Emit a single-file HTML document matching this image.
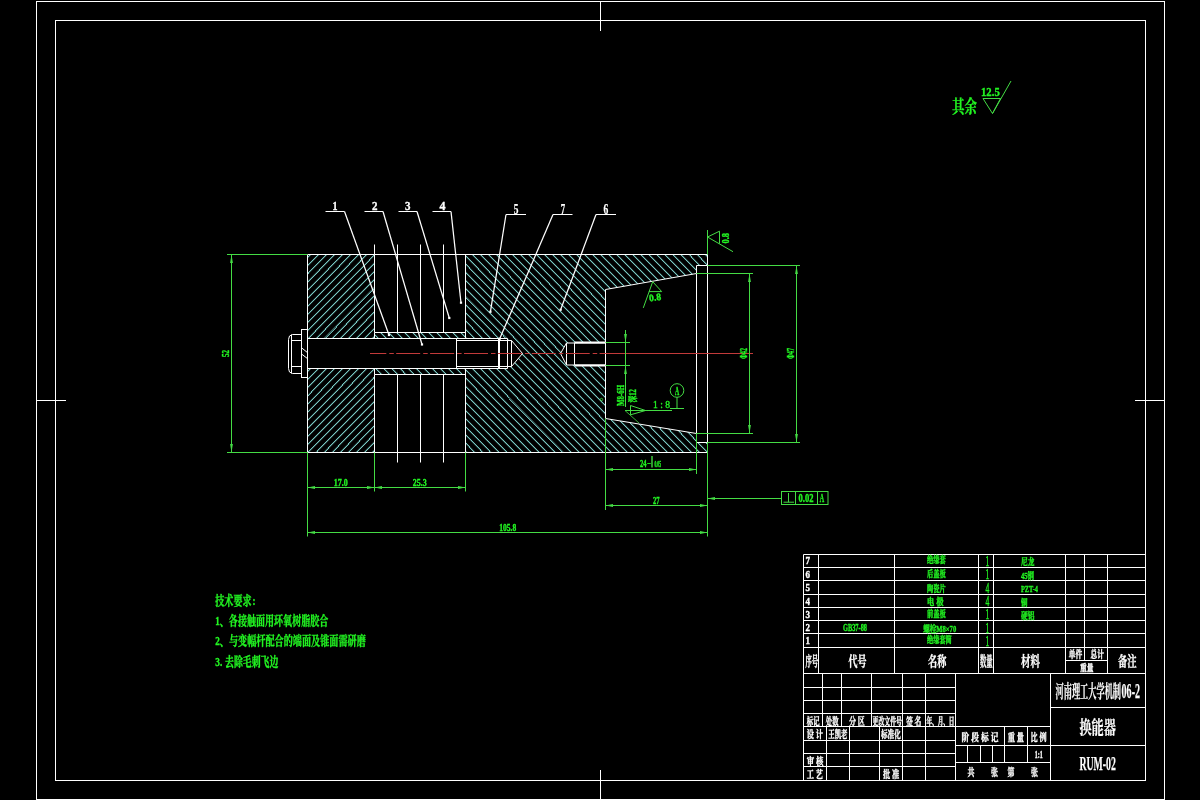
<!DOCTYPE html>
<html lang="zh">
<head>
<meta charset="utf-8">
<title>换能器 RUM-02</title>
<style>
html,body{margin:0;padding:0;background:#000;width:1200px;height:800px;overflow:hidden}
svg{display:block;will-change:transform;font-family:'Liberation Serif', 'Noto Serif CJK SC', serif}
text{white-space:pre}
</style>
</head>
<body>
<svg width="1200" height="800" viewBox="0 0 1200 800" shape-rendering="geometricPrecision">
<defs>
<clipPath id="c1"><path d="M307.5,254.5H374.5V338.5H307.5Z M307.5,368.5H374.5V452.5H307.5Z" clip-rule="evenodd"/></clipPath>
<clipPath id="c2"><path d="M374.5,332.5H465.5V338.5H374.5Z M374.5,368.5H465.5V374.5H374.5Z" clip-rule="evenodd"/></clipPath>
<clipPath id="c3"><path d="M465.5,254.5H707.5V265.5H696.5V273.5L605.5,289.5V343H566.5L560.5,353.5L566.5,365H605.5V418.5L696.5,433.5V442.5H707.5V452.5H465.5V368.5H507.5V366.5H511.5L522.5,353.5L511.5,340.5H507.5V338.5H465.5Z" clip-rule="evenodd"/></clipPath>
</defs>
<g>
<rect x="36.5" y="1.5" width="1128.0" height="798.0" fill="none" stroke="#ffffff" stroke-width="1"/>
<rect x="55.5" y="20.5" width="1090.0" height="760.0" fill="none" stroke="#ffffff" stroke-width="1"/>
<line x1="600.5" y1="1.5" x2="600.5" y2="31" stroke="#ffffff" stroke-width="1" />
<line x1="600.5" y1="770" x2="600.5" y2="799.5" stroke="#ffffff" stroke-width="1" />
<line x1="36.5" y1="400.5" x2="66" y2="400.5" stroke="#ffffff" stroke-width="1" />
<line x1="1135" y1="400.5" x2="1164.5" y2="400.5" stroke="#ffffff" stroke-width="1" />
<g clip-path="url(#c1)" fill="none" stroke="#93f2ec"><path d="M307.50,257.75L374.50,189.87M307.50,265.89L374.50,198.00M307.50,274.02L374.50,206.14M307.50,282.16L374.50,214.28M307.50,290.29L374.50,222.41M307.50,298.43L374.50,230.55M307.50,306.57L374.50,238.68M307.50,314.70L374.50,246.82M307.50,322.84L374.50,254.95M307.50,330.97L374.50,263.09M307.50,339.11L374.50,271.23M307.50,347.24L374.50,279.36M307.50,355.38L374.50,287.50M307.50,363.52L374.50,295.63M307.50,371.65L374.50,303.77M307.50,379.79L374.50,311.90M307.50,387.92L374.50,320.04M307.50,396.06L374.50,328.18M307.50,404.19L374.50,336.31M307.50,412.33L374.50,344.45M307.50,420.47L374.50,352.58M307.50,428.60L374.50,360.72M307.50,436.74L374.50,368.86M307.50,444.87L374.50,376.99M307.50,453.01L374.50,385.13M307.50,461.14L374.50,393.26M307.50,469.28L374.50,401.40M307.50,477.42L374.50,409.53M307.50,485.55L374.50,417.67M307.50,493.69L374.50,425.81M307.50,501.82L374.50,433.94M307.50,509.96L374.50,442.08M307.50,518.10L374.50,450.21" stroke-width="1.5" stroke-opacity="0.4"/><path d="M307.50,257.75L374.50,189.87M307.50,265.89L374.50,198.00M307.50,274.02L374.50,206.14M307.50,282.16L374.50,214.28M307.50,290.29L374.50,222.41M307.50,298.43L374.50,230.55M307.50,306.57L374.50,238.68M307.50,314.70L374.50,246.82M307.50,322.84L374.50,254.95M307.50,330.97L374.50,263.09M307.50,339.11L374.50,271.23M307.50,347.24L374.50,279.36M307.50,355.38L374.50,287.50M307.50,363.52L374.50,295.63M307.50,371.65L374.50,303.77M307.50,379.79L374.50,311.90M307.50,387.92L374.50,320.04M307.50,396.06L374.50,328.18M307.50,404.19L374.50,336.31M307.50,412.33L374.50,344.45M307.50,420.47L374.50,352.58M307.50,428.60L374.50,360.72M307.50,436.74L374.50,368.86M307.50,444.87L374.50,376.99M307.50,453.01L374.50,385.13M307.50,461.14L374.50,393.26M307.50,469.28L374.50,401.40M307.50,477.42L374.50,409.53M307.50,485.55L374.50,417.67M307.50,493.69L374.50,425.81M307.50,501.82L374.50,433.94M307.50,509.96L374.50,442.08M307.50,518.10L374.50,450.21" stroke-width="0.71" shape-rendering="crispEdges"/></g>
<g clip-path="url(#c2)" fill="none" stroke="#93f2ec"><path d="M374.50,367.02L465.50,459.22M374.50,358.89L465.50,451.08M374.50,350.75L465.50,442.95M374.50,342.61L465.50,434.81M374.50,334.48L465.50,426.68M374.50,326.34L465.50,418.54M374.50,318.21L465.50,410.41M374.50,310.07L465.50,402.27M374.50,301.94L465.50,394.13M374.50,293.80L465.50,386.00M374.50,285.66L465.50,377.86M374.50,277.53L465.50,369.73M374.50,269.39L465.50,361.59M374.50,261.26L465.50,353.45M374.50,253.12L465.50,345.32M374.50,244.98L465.50,337.18" stroke-width="1.5" stroke-opacity="0.4"/><path d="M374.50,367.02L465.50,459.22M374.50,358.89L465.50,451.08M374.50,350.75L465.50,442.95M374.50,342.61L465.50,434.81M374.50,334.48L465.50,426.68M374.50,326.34L465.50,418.54M374.50,318.21L465.50,410.41M374.50,310.07L465.50,402.27M374.50,301.94L465.50,394.13M374.50,293.80L465.50,386.00M374.50,285.66L465.50,377.86M374.50,277.53L465.50,369.73M374.50,269.39L465.50,361.59M374.50,261.26L465.50,353.45M374.50,253.12L465.50,345.32M374.50,244.98L465.50,337.18" stroke-width="0.71" shape-rendering="crispEdges"/></g>
<g clip-path="url(#c3)" fill="none" stroke="#93f2ec"><path d="M465.50,451.08L707.50,696.27M465.50,442.95L707.50,688.14M465.50,434.81L707.50,680.00M465.50,426.68L707.50,671.86M465.50,418.54L707.50,663.73M465.50,410.41L707.50,655.59M465.50,402.27L707.50,647.46M465.50,394.13L707.50,639.32M465.50,386.00L707.50,631.19M465.50,377.86L707.50,623.05M465.50,369.73L707.50,614.91M465.50,361.59L707.50,606.78M465.50,353.45L707.50,598.64M465.50,345.32L707.50,590.51M465.50,337.18L707.50,582.37M465.50,329.05L707.50,574.24M465.50,320.91L707.50,566.10M465.50,312.78L707.50,557.96M465.50,304.64L707.50,549.83M465.50,296.50L707.50,541.69M465.50,288.37L707.50,533.56M465.50,280.23L707.50,525.42M465.50,272.10L707.50,517.28M465.50,263.96L707.50,509.15M465.50,255.83L707.50,501.01M465.50,247.69L707.50,492.88M465.50,239.55L707.50,484.74M465.50,231.42L707.50,476.61M465.50,223.28L707.50,468.47M465.50,215.15L707.50,460.33M465.50,207.01L707.50,452.20M465.50,198.88L707.50,444.06M465.50,190.74L707.50,435.93M465.50,182.60L707.50,427.79M465.50,174.47L707.50,419.66M465.50,166.33L707.50,411.52M465.50,158.20L707.50,403.38M465.50,150.06L707.50,395.25M465.50,141.93L707.50,387.11M465.50,133.79L707.50,378.98M465.50,125.65L707.50,370.84M465.50,117.52L707.50,362.71M465.50,109.38L707.50,354.57M465.50,101.25L707.50,346.43M465.50,93.11L707.50,338.30M465.50,84.97L707.50,330.16M465.50,76.84L707.50,322.03M465.50,68.70L707.50,313.89M465.50,60.57L707.50,305.75M465.50,52.43L707.50,297.62M465.50,44.30L707.50,289.48M465.50,36.16L707.50,281.35M465.50,28.02L707.50,273.21M465.50,19.89L707.50,265.08M465.50,11.75L707.50,256.94" stroke-width="1.5" stroke-opacity="0.4"/><path d="M465.50,451.08L707.50,696.27M465.50,442.95L707.50,688.14M465.50,434.81L707.50,680.00M465.50,426.68L707.50,671.86M465.50,418.54L707.50,663.73M465.50,410.41L707.50,655.59M465.50,402.27L707.50,647.46M465.50,394.13L707.50,639.32M465.50,386.00L707.50,631.19M465.50,377.86L707.50,623.05M465.50,369.73L707.50,614.91M465.50,361.59L707.50,606.78M465.50,353.45L707.50,598.64M465.50,345.32L707.50,590.51M465.50,337.18L707.50,582.37M465.50,329.05L707.50,574.24M465.50,320.91L707.50,566.10M465.50,312.78L707.50,557.96M465.50,304.64L707.50,549.83M465.50,296.50L707.50,541.69M465.50,288.37L707.50,533.56M465.50,280.23L707.50,525.42M465.50,272.10L707.50,517.28M465.50,263.96L707.50,509.15M465.50,255.83L707.50,501.01M465.50,247.69L707.50,492.88M465.50,239.55L707.50,484.74M465.50,231.42L707.50,476.61M465.50,223.28L707.50,468.47M465.50,215.15L707.50,460.33M465.50,207.01L707.50,452.20M465.50,198.88L707.50,444.06M465.50,190.74L707.50,435.93M465.50,182.60L707.50,427.79M465.50,174.47L707.50,419.66M465.50,166.33L707.50,411.52M465.50,158.20L707.50,403.38M465.50,150.06L707.50,395.25M465.50,141.93L707.50,387.11M465.50,133.79L707.50,378.98M465.50,125.65L707.50,370.84M465.50,117.52L707.50,362.71M465.50,109.38L707.50,354.57M465.50,101.25L707.50,346.43M465.50,93.11L707.50,338.30M465.50,84.97L707.50,330.16M465.50,76.84L707.50,322.03M465.50,68.70L707.50,313.89M465.50,60.57L707.50,305.75M465.50,52.43L707.50,297.62M465.50,44.30L707.50,289.48M465.50,36.16L707.50,281.35M465.50,28.02L707.50,273.21M465.50,19.89L707.50,265.08M465.50,11.75L707.50,256.94" stroke-width="0.71" shape-rendering="crispEdges"/></g>
<line x1="307.5" y1="254.5" x2="707.5" y2="254.5" stroke="#ffffff" stroke-width="1" />
<line x1="307.5" y1="452.5" x2="707.5" y2="452.5" stroke="#ffffff" stroke-width="1" />
<line x1="307.5" y1="254.5" x2="307.5" y2="452.5" stroke="#ffffff" stroke-width="1" />
<line x1="374.5" y1="244.5" x2="374.5" y2="332.5" stroke="#ffffff" stroke-width="1" />
<line x1="397.5" y1="244.5" x2="397.5" y2="332.5" stroke="#ffffff" stroke-width="1" />
<line x1="420.5" y1="244.5" x2="420.5" y2="332.5" stroke="#ffffff" stroke-width="1" />
<line x1="443.5" y1="244.5" x2="443.5" y2="332.5" stroke="#ffffff" stroke-width="1" />
<line x1="397.5" y1="374.5" x2="397.5" y2="462.5" stroke="#ffffff" stroke-width="1" />
<line x1="420.5" y1="374.5" x2="420.5" y2="462.5" stroke="#ffffff" stroke-width="1" />
<line x1="443.5" y1="374.5" x2="443.5" y2="462.5" stroke="#ffffff" stroke-width="1" />
<line x1="374.5" y1="374.5" x2="374.5" y2="452.5" stroke="#ffffff" stroke-width="1" />
<line x1="374.5" y1="332.5" x2="374.5" y2="338.5" stroke="#ffffff" stroke-width="1" />
<line x1="374.5" y1="368.5" x2="374.5" y2="374.5" stroke="#ffffff" stroke-width="1" />
<line x1="465.5" y1="254.5" x2="465.5" y2="338.5" stroke="#ffffff" stroke-width="1" />
<line x1="465.5" y1="368.5" x2="465.5" y2="452.5" stroke="#ffffff" stroke-width="1" />
<line x1="374.5" y1="332.5" x2="465.5" y2="332.5" stroke="#ffffff" stroke-width="1" />
<line x1="374.5" y1="374.5" x2="465.5" y2="374.5" stroke="#ffffff" stroke-width="1" />
<line x1="307.5" y1="338.5" x2="507.5" y2="338.5" stroke="#ffffff" stroke-width="1" />
<line x1="307.5" y1="368.5" x2="507.5" y2="368.5" stroke="#ffffff" stroke-width="1" />
<line x1="507.5" y1="338.5" x2="507.5" y2="368.5" stroke="#ffffff" stroke-width="1" />
<line x1="456.5" y1="338.5" x2="456.5" y2="368.5" stroke="#ffffff" stroke-width="1" />
<line x1="456.5" y1="340.5" x2="511.5" y2="340.5" stroke="#ffffff" stroke-width="1" />
<line x1="456.5" y1="366.5" x2="511.5" y2="366.5" stroke="#ffffff" stroke-width="1" />
<line x1="499" y1="338.5" x2="499" y2="368.5" stroke="#ffffff" stroke-width="2" />
<line x1="511.5" y1="340.5" x2="511.5" y2="366.5" stroke="#ffffff" stroke-width="1" />
<polyline points="511.5,340.5 522.5,353.5 511.5,366.5" fill="none" stroke="#ffffff" stroke-width="1"/>
<path d="M301.5,334.5H292.5Q288.5,335 288.5,339.5V368.5Q288.5,373 292.5,373.5H301.5" fill="none" stroke="#fff" stroke-width="1"/>
<line x1="291.5" y1="334.5" x2="291.5" y2="373.5" stroke="#ffffff" stroke-width="1" />
<line x1="291.5" y1="340.5" x2="301.5" y2="340.5" stroke="#ffffff" stroke-width="1" />
<line x1="291.5" y1="366.5" x2="301.5" y2="366.5" stroke="#ffffff" stroke-width="1" />
<rect x="301.5" y="329.5" width="6.0" height="48.0" fill="none" stroke="#ffffff" stroke-width="1"/>
<line x1="301.5" y1="347.8" x2="307.5" y2="352.6" stroke="#ffffff" stroke-width="1" />
<line x1="301.5" y1="354.0" x2="307.5" y2="358.6" stroke="#ffffff" stroke-width="1" />
<polyline points="707.5,254.5 707.5,265.5 696.5,265.5 696.5,273.5 605.5,289.5 605.5,418.5 696.5,433.5 696.5,442.5 707.5,442.5 707.5,452.5" fill="none" stroke="#ffffff" stroke-width="1"/>
<line x1="696.5" y1="273.5" x2="696.5" y2="433.5" stroke="#ffffff" stroke-width="1" />
<line x1="707.5" y1="254.5" x2="707.5" y2="442.5" stroke="#ffffff" stroke-width="1" />
<polyline points="605.5,343 566.5,343 560.5,353.5 566.5,365 605.5,365" fill="none" stroke="#ffffff" stroke-width="1"/>
<line x1="574.5" y1="342.5" x2="605.5" y2="342.5" stroke="#ffffff" stroke-width="2" />
<line x1="574.5" y1="365.5" x2="605.5" y2="365.5" stroke="#ffffff" stroke-width="2" />
<line x1="566.5" y1="343" x2="566.5" y2="365" stroke="#ffffff" stroke-width="1" />
<line x1="574.5" y1="343" x2="574.5" y2="365" stroke="#ffffff" stroke-width="1" />
<path d="M370,353.5H753" stroke="#c23a3a" stroke-width="1.1" fill="none" stroke-dasharray="24 3 4.5 2.4" stroke-dashoffset="7.7"/>
<line x1="600" y1="353.5" x2="753" y2="353.5" stroke="#c23a3a" stroke-width="1.1" />
<line x1="325.5" y1="211.5" x2="344.5" y2="211.5" stroke="#ffffff" stroke-width="1" />
<line x1="344.5" y1="211.5" x2="389.0" y2="335.0" stroke="#ffffff" stroke-width="1.25" />
<rect x="387.9" y="333.9" width="2.2" height="2.2" fill="#ffffff"/>
<text x="332.5" y="210.0" font-size="13.13" fill="#ffffff" font-weight="bold" stroke="#ffffff" stroke-width="0.35" textLength="5.0" lengthAdjust="spacingAndGlyphs" >1</text>
<line x1="364.5" y1="211.5" x2="383.0" y2="211.5" stroke="#ffffff" stroke-width="1" />
<line x1="383.0" y1="211.5" x2="422.0" y2="344.5" stroke="#ffffff" stroke-width="1.25" />
<rect x="420.9" y="343.4" width="2.2" height="2.2" fill="#ffffff"/>
<text x="372.0" y="210.0" font-size="13.13" fill="#ffffff" font-weight="bold" stroke="#ffffff" stroke-width="0.35" textLength="5.5" lengthAdjust="spacingAndGlyphs" >2</text>
<line x1="398.5" y1="211.5" x2="417.0" y2="211.5" stroke="#ffffff" stroke-width="1" />
<line x1="417.0" y1="211.5" x2="449.3" y2="318.0" stroke="#ffffff" stroke-width="1.25" />
<rect x="448.2" y="316.9" width="2.2" height="2.2" fill="#ffffff"/>
<text x="405.0" y="210.0" font-size="13.13" fill="#ffffff" font-weight="bold" stroke="#ffffff" stroke-width="0.35" textLength="5.5" lengthAdjust="spacingAndGlyphs" >3</text>
<line x1="432.5" y1="211.5" x2="451.0" y2="211.5" stroke="#ffffff" stroke-width="1" />
<line x1="451.0" y1="211.5" x2="461.0" y2="302.7" stroke="#ffffff" stroke-width="1.25" />
<rect x="459.9" y="301.59999999999997" width="2.2" height="2.2" fill="#ffffff"/>
<text x="439.5" y="210.0" font-size="13.13" fill="#ffffff" font-weight="bold" stroke="#ffffff" stroke-width="0.35" textLength="6.0" lengthAdjust="spacingAndGlyphs" >4</text>
<line x1="506.0" y1="214.5" x2="526.0" y2="214.5" stroke="#ffffff" stroke-width="1" />
<line x1="506.0" y1="214.5" x2="490.4" y2="311.8" stroke="#ffffff" stroke-width="1.25" />
<rect x="489.29999999999995" y="310.7" width="2.2" height="2.2" fill="#ffffff"/>
<text x="513.7" y="213.8" font-size="14.33" fill="#ffffff" font-weight="bold" stroke="#ffffff" stroke-width="0.25" textLength="4.7" lengthAdjust="spacingAndGlyphs" >5</text>
<line x1="553.0" y1="214.5" x2="572.5" y2="214.5" stroke="#ffffff" stroke-width="1" />
<line x1="553.0" y1="214.5" x2="499.7" y2="338.7" stroke="#ffffff" stroke-width="1.25" />
<rect x="498.59999999999997" y="337.59999999999997" width="2.2" height="2.2" fill="#ffffff"/>
<text x="560.8" y="213.8" font-size="14.33" fill="#ffffff" font-weight="bold" stroke="#ffffff" stroke-width="0.25" textLength="4.4" lengthAdjust="spacingAndGlyphs" >7</text>
<line x1="596.0" y1="214.5" x2="616.0" y2="214.5" stroke="#ffffff" stroke-width="1" />
<line x1="596.0" y1="214.5" x2="560.6" y2="309.8" stroke="#ffffff" stroke-width="1.25" />
<rect x="559.5" y="308.7" width="2.2" height="2.2" fill="#ffffff"/>
<text x="603.6" y="213.8" font-size="14.33" fill="#ffffff" font-weight="bold" stroke="#ffffff" stroke-width="0.25" textLength="4.8" lengthAdjust="spacingAndGlyphs" >6</text>
<line x1="227" y1="254.5" x2="307.5" y2="254.5" stroke="#44dc44" stroke-width="1" />
<line x1="227" y1="452.5" x2="307.5" y2="452.5" stroke="#44dc44" stroke-width="1" />
<line x1="231.5" y1="254.5" x2="231.5" y2="452.5" stroke="#44dc44" stroke-width="1" />
<polygon points="231.5,254.5 230.1,263.0 232.9,263.0" fill="#44dc44"/>
<polygon points="231.5,452.5 230.1,444.0 232.9,444.0" fill="#44dc44"/>
<text x="229" y="357" font-size="9.5" fill="#22f522" font-weight="bold" stroke="#22f522" stroke-width="0.35" textLength="7" lengthAdjust="spacingAndGlyphs" transform="rotate(-90 229 357)" >52</text>
<line x1="307.5" y1="452.5" x2="307.5" y2="536.5" stroke="#44dc44" stroke-width="1" />
<line x1="374.5" y1="452.5" x2="374.5" y2="491.5" stroke="#44dc44" stroke-width="1" />
<line x1="465.5" y1="452.5" x2="465.5" y2="491.5" stroke="#44dc44" stroke-width="1" />
<line x1="307.5" y1="487.5" x2="465.5" y2="487.5" stroke="#44dc44" stroke-width="1" />
<polygon points="307.5,487.5 315.0,486.1 315.0,488.9" fill="#44dc44"/>
<polygon points="374.5,487.5 367.0,486.1 367.0,488.9" fill="#44dc44"/>
<polygon points="374.5,487.5 382.0,486.1 382.0,488.9" fill="#44dc44"/>
<polygon points="465.5,487.5 458.0,486.1 458.0,488.9" fill="#44dc44"/>
<text x="333.7" y="485.6" font-size="10.45" fill="#22f522" font-weight="bold" stroke="#22f522" stroke-width="0.35" textLength="14.0" lengthAdjust="spacingAndGlyphs" >17.0</text>
<text x="412.8" y="485.6" font-size="10.45" fill="#22f522" font-weight="bold" stroke="#22f522" stroke-width="0.35" textLength="14.0" lengthAdjust="spacingAndGlyphs" >25.3</text>
<line x1="307.5" y1="532.5" x2="707.5" y2="532.5" stroke="#44dc44" stroke-width="1" />
<polygon points="307.5,532.5 315.0,531.1 315.0,533.9" fill="#44dc44"/>
<polygon points="707.5,532.5 700.0,531.1 700.0,533.9" fill="#44dc44"/>
<text x="499.2" y="530.6" font-size="10.75" fill="#22f522" font-weight="bold" stroke="#22f522" stroke-width="0.35" textLength="17.0" lengthAdjust="spacingAndGlyphs" >105.8</text>
<line x1="707.5" y1="442.5" x2="707.5" y2="536.5" stroke="#44dc44" stroke-width="1" />
<line x1="605.5" y1="418.5" x2="605.5" y2="510" stroke="#44dc44" stroke-width="1" />
<line x1="696.5" y1="433.5" x2="696.5" y2="474" stroke="#44dc44" stroke-width="1" />
<line x1="605.5" y1="469.5" x2="696.5" y2="469.5" stroke="#44dc44" stroke-width="1" />
<polygon points="605.5,469.5 613.0,468.1 613.0,470.9" fill="#44dc44"/>
<polygon points="696.5,469.5 689.0,468.1 689.0,470.9" fill="#44dc44"/>
<text x="640" y="466.6" font-size="10.6" fill="#22f522" font-weight="bold" stroke="#22f522" stroke-width="0.35" textLength="6.5" lengthAdjust="spacingAndGlyphs" >24</text>
<line x1="652" y1="456" x2="652" y2="467.5" stroke="#44dc44" stroke-width="1.4" />
<text x="647.2" y="465.5" font-size="8" fill="#22f522" font-weight="bold" stroke="#22f522" stroke-width="0.35" textLength="3.5" lengthAdjust="spacingAndGlyphs" >-</text>
<text x="654.5" y="467.3" font-size="7.5" fill="#22f522" font-weight="bold" stroke="#22f522" stroke-width="0.35" textLength="6.5" lengthAdjust="spacingAndGlyphs" >0.05</text>
<line x1="605.5" y1="505.5" x2="707.5" y2="505.5" stroke="#44dc44" stroke-width="1" />
<polygon points="605.5,505.5 613.0,504.1 613.0,506.9" fill="#44dc44"/>
<polygon points="707.5,505.5 700.0,504.1 700.0,506.9" fill="#44dc44"/>
<text x="653" y="504" font-size="11.04" fill="#22f522" font-weight="bold" stroke="#22f522" stroke-width="0.35" textLength="6.6" lengthAdjust="spacingAndGlyphs" >27</text>
<line x1="707.5" y1="230" x2="707.5" y2="254.5" stroke="#44dc44" stroke-width="1" />
<line x1="707.5" y1="265.5" x2="800" y2="265.5" stroke="#44dc44" stroke-width="1" />
<line x1="707.5" y1="442.5" x2="800" y2="442.5" stroke="#44dc44" stroke-width="1" />
<line x1="696.5" y1="273.5" x2="753" y2="273.5" stroke="#44dc44" stroke-width="1" />
<line x1="696.5" y1="433.5" x2="753" y2="433.5" stroke="#44dc44" stroke-width="1" />
<line x1="749.5" y1="273.5" x2="749.5" y2="433.5" stroke="#44dc44" stroke-width="1" />
<line x1="796.5" y1="265.5" x2="796.5" y2="442.5" stroke="#44dc44" stroke-width="1" />
<polygon points="749.5,273.5 748.1,282.0 750.9,282.0" fill="#44dc44"/>
<polygon points="749.5,433.5 748.1,425.0 750.9,425.0" fill="#44dc44"/>
<polygon points="796.5,265.5 795.1,274.0 797.9,274.0" fill="#44dc44"/>
<polygon points="796.5,442.5 795.1,434.0 797.9,434.0" fill="#44dc44"/>
<text x="746.6" y="359" font-size="10.5" fill="#22f522" font-weight="bold" stroke="#22f522" stroke-width="0.35" textLength="11" lengthAdjust="spacingAndGlyphs" transform="rotate(-90 746.6 359)" >Φ42</text>
<text x="793.6" y="359" font-size="10.5" fill="#22f522" font-weight="bold" stroke="#22f522" stroke-width="0.35" textLength="11" lengthAdjust="spacingAndGlyphs" transform="rotate(-90 793.6 359)" >Φ47</text>
<line x1="605.5" y1="342.5" x2="630" y2="342.5" stroke="#44dc44" stroke-width="1" />
<line x1="605.5" y1="365.5" x2="630" y2="365.5" stroke="#44dc44" stroke-width="1" />
<line x1="625.5" y1="330" x2="625.5" y2="407" stroke="#44dc44" stroke-width="1" />
<polygon points="625.5,342.5 624.1,334.0 626.9,334.0" fill="#44dc44"/>
<polygon points="625.5,365.5 624.1,374.0 626.9,374.0" fill="#44dc44"/>
<text x="624" y="406" font-size="9.5" fill="#22f522" font-weight="bold" stroke="#22f522" stroke-width="0.35" textLength="21" lengthAdjust="spacingAndGlyphs" transform="rotate(-90 624 406)" >M8-6H</text>
<text x="635.5" y="402.5" font-size="9.5" fill="#22f522" font-weight="bold" stroke="#22f522" stroke-width="0.35" textLength="13.5" lengthAdjust="spacingAndGlyphs" transform="rotate(-90 635.5 402.5)" >深12</text>
<circle cx="601.5" cy="399.5" r="1.2" fill="none" stroke="#44dc44" stroke-width="0.8"/>
<line x1="625" y1="410.5" x2="672" y2="410.5" stroke="#44dc44" stroke-width="1" />
<polygon points="630.5,405.5 645.5,410.5 630.5,414.8" fill="none" stroke="#44dc44" stroke-width="1"/>
<line x1="625" y1="410.5" x2="639" y2="423" stroke="#44dc44" stroke-width="0.8" />
<text x="653" y="408.2" font-size="10.5" fill="#22f522" font-weight="normal" stroke="#22f522" stroke-width="0.35" textLength="17" lengthAdjust="spacingAndGlyphs" >1 : 8</text>
<circle cx="677" cy="390.5" r="6.8" fill="none" stroke="#44dc44" stroke-width="1"/>
<line x1="677" y1="397.3" x2="677" y2="408.5" stroke="#44dc44" stroke-width="1" />
<line x1="670" y1="408.5" x2="684" y2="408.5" stroke="#44dc44" stroke-width="1" />
<text x="675" y="394.5" font-size="11.94" fill="#22f522" font-weight="bold" stroke="#22f522" stroke-width="0.35" textLength="4.2" lengthAdjust="spacingAndGlyphs" >A</text>
<polyline points="733,251.7 707.5,237 719.5,231.2 719.5,243.6" fill="none" stroke="#44dc44" stroke-width="1"/>
<text x="729" y="243.5" font-size="10" fill="#22f522" font-weight="bold" stroke="#22f522" stroke-width="0.35" textLength="10.5" lengthAdjust="spacingAndGlyphs" transform="rotate(-90 729 243.5)" >0.8</text>
<polyline points="643.3,307.9 652.7,281.7 661.7,291.6 648.9,291.6" fill="none" stroke="#44dc44" stroke-width="1"/>
<text x="649.5" y="301.5" font-size="10" fill="#22f522" font-weight="bold" stroke="#22f522" stroke-width="0.35" textLength="12" lengthAdjust="spacingAndGlyphs" transform="rotate(-8 649.5 301.5)" >0.8</text>
<line x1="707.5" y1="498.5" x2="781.5" y2="498.5" stroke="#44dc44" stroke-width="1" />
<polygon points="707.5,498.5 715.0,497.1 715.0,499.9" fill="#44dc44"/>
<rect x="781.5" y="491.5" width="46.5" height="13.0" fill="none" stroke="#44dc44" stroke-width="1"/>
<line x1="795.5" y1="491.5" x2="795.5" y2="504.5" stroke="#44dc44" stroke-width="1" />
<line x1="817.5" y1="491.5" x2="817.5" y2="504.5" stroke="#44dc44" stroke-width="1" />
<line x1="788.5" y1="493" x2="788.5" y2="502.2" stroke="#44dc44" stroke-width="1" />
<line x1="783.5" y1="502.2" x2="794" y2="502.2" stroke="#44dc44" stroke-width="1" />
<text x="798.5" y="502" font-size="11.94" fill="#22f522" font-weight="bold" stroke="#22f522" stroke-width="0.35" textLength="15.0" lengthAdjust="spacingAndGlyphs" >0.02</text>
<text x="819.8" y="502" font-size="12.54" fill="#22f522" font-weight="bold" stroke="#22f522" stroke-width="0.35" textLength="4.4" lengthAdjust="spacingAndGlyphs" >A</text>
<text x="952" y="113.28" font-size="18.71" fill="#22f522" font-weight="bold" stroke="#22f522" stroke-width="0.25" textLength="25" lengthAdjust="spacingAndGlyphs" >其余</text>
<text x="981" y="95.8" font-size="13.43" fill="#22f522" font-weight="bold" stroke="#22f522" stroke-width="0.35" textLength="18.8" lengthAdjust="spacingAndGlyphs" >12.5</text>
<polygon points="983,98.5 1000.5,98.5 992.5,113.5" fill="none" stroke="#44dc44" stroke-width="1"/>
<line x1="992.5" y1="113.5" x2="1011" y2="81" stroke="#44dc44" stroke-width="1" />
<text x="215.3" y="605.43" font-size="12.9" fill="#22f522" font-weight="bold" stroke="#22f522" stroke-width="0.35" textLength="36.2" lengthAdjust="spacingAndGlyphs" >技术要求</text>
<text x="252.5" y="605.43" font-size="12.9" fill="#22f522" font-weight="bold" stroke="#22f522" stroke-width="0.35" textLength="3.0" lengthAdjust="spacingAndGlyphs" >:</text>
<text x="215.3" y="625.14" font-size="12.69" fill="#22f522" font-weight="bold" stroke="#22f522" stroke-width="0.35" textLength="113.0" lengthAdjust="spacingAndGlyphs" >1、各接触面用环氧树脂胶合</text>
<text x="215.3" y="645.34" font-size="12.69" fill="#22f522" font-weight="bold" stroke="#22f522" stroke-width="0.35" textLength="150.5" lengthAdjust="spacingAndGlyphs" >2、与变幅杆配合的端面及锥面需研磨</text>
<text x="215.3" y="665.64" font-size="12.69" fill="#22f522" font-weight="bold" stroke="#22f522" stroke-width="0.35" textLength="7.0" lengthAdjust="spacingAndGlyphs" >3.</text>
<text x="225" y="665.64" font-size="12.69" fill="#22f522" font-weight="bold" stroke="#22f522" stroke-width="0.35" textLength="53.3" lengthAdjust="spacingAndGlyphs" >去除毛刺飞边</text>
<line x1="803.5" y1="554.5" x2="1145.5" y2="554.5" stroke="#ffffff" stroke-width="1" />
<line x1="803.5" y1="567.5" x2="1145.5" y2="567.5" stroke="#ffffff" stroke-width="1" />
<line x1="803.5" y1="580.5" x2="1145.5" y2="580.5" stroke="#ffffff" stroke-width="1" />
<line x1="803.5" y1="594.5" x2="1145.5" y2="594.5" stroke="#ffffff" stroke-width="1" />
<line x1="803.5" y1="607.5" x2="1145.5" y2="607.5" stroke="#ffffff" stroke-width="1" />
<line x1="803.5" y1="620.5" x2="1145.5" y2="620.5" stroke="#ffffff" stroke-width="1" />
<line x1="803.5" y1="633.5" x2="1145.5" y2="633.5" stroke="#ffffff" stroke-width="1" />
<line x1="803.5" y1="647.5" x2="1145.5" y2="647.5" stroke="#ffffff" stroke-width="1" />
<line x1="803.5" y1="554.5" x2="803.5" y2="780.5" stroke="#ffffff" stroke-width="1" />
<line x1="818.5" y1="554.5" x2="818.5" y2="673.5" stroke="#ffffff" stroke-width="1" />
<line x1="894.5" y1="554.5" x2="894.5" y2="673.5" stroke="#ffffff" stroke-width="1" />
<line x1="978.5" y1="554.5" x2="978.5" y2="673.5" stroke="#ffffff" stroke-width="1" />
<line x1="993.5" y1="554.5" x2="993.5" y2="673.5" stroke="#ffffff" stroke-width="1" />
<line x1="1065.5" y1="554.5" x2="1065.5" y2="673.5" stroke="#ffffff" stroke-width="1" />
<line x1="1084.5" y1="554.5" x2="1084.5" y2="660.5" stroke="#ffffff" stroke-width="1" />
<line x1="1107.5" y1="554.5" x2="1107.5" y2="673.5" stroke="#ffffff" stroke-width="1" />
<line x1="803.5" y1="673.5" x2="1145.5" y2="673.5" stroke="#ffffff" stroke-width="1" />
<line x1="1065.5" y1="660.5" x2="1107.5" y2="660.5" stroke="#ffffff" stroke-width="1" />
<line x1="803.5" y1="687.5" x2="955.5" y2="687.5" stroke="#ffffff" stroke-width="1" />
<line x1="803.5" y1="700.5" x2="955.5" y2="700.5" stroke="#ffffff" stroke-width="1" />
<line x1="803.5" y1="713.5" x2="955.5" y2="713.5" stroke="#ffffff" stroke-width="1" />
<line x1="803.5" y1="726.5" x2="955.5" y2="726.5" stroke="#ffffff" stroke-width="1" />
<line x1="803.5" y1="740.5" x2="955.5" y2="740.5" stroke="#ffffff" stroke-width="1" />
<line x1="803.5" y1="753.5" x2="955.5" y2="753.5" stroke="#ffffff" stroke-width="1" />
<line x1="803.5" y1="766.5" x2="955.5" y2="766.5" stroke="#ffffff" stroke-width="1" />
<line x1="822.5" y1="673.5" x2="822.5" y2="726.5" stroke="#ffffff" stroke-width="1" />
<line x1="841.5" y1="673.5" x2="841.5" y2="726.5" stroke="#ffffff" stroke-width="1" />
<line x1="871.5" y1="673.5" x2="871.5" y2="726.5" stroke="#ffffff" stroke-width="1" />
<line x1="826.5" y1="726.5" x2="826.5" y2="780.5" stroke="#ffffff" stroke-width="1" />
<line x1="849.5" y1="726.5" x2="849.5" y2="780.5" stroke="#ffffff" stroke-width="1" />
<line x1="879.5" y1="726.5" x2="879.5" y2="780.5" stroke="#ffffff" stroke-width="1" />
<line x1="902.5" y1="673.5" x2="902.5" y2="780.5" stroke="#ffffff" stroke-width="1" />
<line x1="925.5" y1="673.5" x2="925.5" y2="780.5" stroke="#ffffff" stroke-width="1" />
<line x1="955.5" y1="673.5" x2="955.5" y2="780.5" stroke="#ffffff" stroke-width="1" />
<line x1="955.5" y1="726.5" x2="1050.5" y2="726.5" stroke="#ffffff" stroke-width="1" />
<line x1="955.5" y1="745.5" x2="1145.5" y2="745.5" stroke="#ffffff" stroke-width="1" />
<line x1="955.5" y1="762.5" x2="1050.5" y2="762.5" stroke="#ffffff" stroke-width="1" />
<line x1="1050.5" y1="673.5" x2="1050.5" y2="780.5" stroke="#ffffff" stroke-width="1" />
<line x1="1004.5" y1="726.5" x2="1004.5" y2="762.5" stroke="#ffffff" stroke-width="1" />
<line x1="1027.5" y1="726.5" x2="1027.5" y2="762.5" stroke="#ffffff" stroke-width="1" />
<line x1="967.5" y1="745.5" x2="967.5" y2="762.5" stroke="#ffffff" stroke-width="1" />
<line x1="980.5" y1="745.5" x2="980.5" y2="762.5" stroke="#ffffff" stroke-width="1" />
<line x1="992.5" y1="745.5" x2="992.5" y2="762.5" stroke="#ffffff" stroke-width="1" />
<line x1="1050.5" y1="707.5" x2="1145.5" y2="707.5" stroke="#ffffff" stroke-width="1" />
<text x="805.5" y="564.35" font-size="10.75" fill="#ffffff" font-weight="bold" stroke="#ffffff" stroke-width="0.35" textLength="4.5" lengthAdjust="spacingAndGlyphs" >7</text>
<text x="805.5" y="577.85" font-size="10.75" fill="#ffffff" font-weight="bold" stroke="#ffffff" stroke-width="0.35" textLength="4.5" lengthAdjust="spacingAndGlyphs" >6</text>
<text x="805.5" y="591.35" font-size="10.75" fill="#ffffff" font-weight="bold" stroke="#ffffff" stroke-width="0.35" textLength="4.5" lengthAdjust="spacingAndGlyphs" >5</text>
<text x="805.5" y="604.6" font-size="10.75" fill="#ffffff" font-weight="bold" stroke="#ffffff" stroke-width="0.35" textLength="4.5" lengthAdjust="spacingAndGlyphs" >4</text>
<text x="805.5" y="617.6" font-size="10.75" fill="#ffffff" font-weight="bold" stroke="#ffffff" stroke-width="0.35" textLength="4.5" lengthAdjust="spacingAndGlyphs" >3</text>
<text x="805.5" y="631.1" font-size="10.75" fill="#ffffff" font-weight="bold" stroke="#ffffff" stroke-width="0.35" textLength="4.5" lengthAdjust="spacingAndGlyphs" >2</text>
<text x="805.5" y="644.1" font-size="10.75" fill="#ffffff" font-weight="bold" stroke="#ffffff" stroke-width="0.35" textLength="4.5" lengthAdjust="spacingAndGlyphs" >1</text>
<text x="927" y="562.96" font-size="9.03" fill="#22f522" font-weight="bold" stroke="#22f522" stroke-width="0.35" textLength="18.8" lengthAdjust="spacingAndGlyphs" >绝缘套</text>
<text x="927" y="576.86" font-size="9.03" fill="#22f522" font-weight="bold" stroke="#22f522" stroke-width="0.35" textLength="18.8" lengthAdjust="spacingAndGlyphs" >后盖板</text>
<text x="927" y="592.26" font-size="9.03" fill="#22f522" font-weight="bold" stroke="#22f522" stroke-width="0.35" textLength="18.8" lengthAdjust="spacingAndGlyphs" >陶瓷片</text>
<text x="927" y="605.46" font-size="9.03" fill="#22f522" font-weight="bold" stroke="#22f522" stroke-width="0.35" textLength="16.5" lengthAdjust="spacingAndGlyphs" >电 极</text>
<text x="927" y="617.26" font-size="9.03" fill="#22f522" font-weight="bold" stroke="#22f522" stroke-width="0.35" textLength="18.8" lengthAdjust="spacingAndGlyphs" >前盖板</text>
<text x="923.2" y="631.96" font-size="9.03" fill="#22f522" font-weight="bold" stroke="#22f522" stroke-width="0.35" textLength="33.0" lengthAdjust="spacingAndGlyphs" >螺栓M8×70</text>
<text x="927" y="642.86" font-size="9.03" fill="#22f522" font-weight="bold" stroke="#22f522" stroke-width="0.35" textLength="24.8" lengthAdjust="spacingAndGlyphs" >绝缘套筒</text>
<text x="843" y="631" font-size="10.75" fill="#22f522" font-weight="bold" stroke="#22f522" stroke-width="0.35" textLength="24" lengthAdjust="spacingAndGlyphs" >GB37-88</text>
<text x="985.5" y="565.85" font-size="13.73" fill="#22f522" font-weight="normal" stroke="#22f522" stroke-width="0.35" textLength="3.8" lengthAdjust="spacingAndGlyphs" >1</text>
<text x="985.5" y="579.35" font-size="13.73" fill="#22f522" font-weight="normal" stroke="#22f522" stroke-width="0.35" textLength="3.8" lengthAdjust="spacingAndGlyphs" >1</text>
<text x="985.5" y="592.85" font-size="13.73" fill="#22f522" font-weight="normal" stroke="#22f522" stroke-width="0.35" textLength="3.8" lengthAdjust="spacingAndGlyphs" >4</text>
<text x="985.5" y="606.1" font-size="13.73" fill="#22f522" font-weight="normal" stroke="#22f522" stroke-width="0.35" textLength="3.8" lengthAdjust="spacingAndGlyphs" >4</text>
<text x="985.5" y="619.1" font-size="13.73" fill="#22f522" font-weight="normal" stroke="#22f522" stroke-width="0.35" textLength="3.8" lengthAdjust="spacingAndGlyphs" >1</text>
<text x="985.5" y="632.6" font-size="13.73" fill="#22f522" font-weight="normal" stroke="#22f522" stroke-width="0.35" textLength="3.8" lengthAdjust="spacingAndGlyphs" >1</text>
<text x="985.5" y="645.6" font-size="13.73" fill="#22f522" font-weight="normal" stroke="#22f522" stroke-width="0.35" textLength="3.8" lengthAdjust="spacingAndGlyphs" >1</text>
<text x="1021" y="565.41" font-size="9.03" fill="#22f522" font-weight="bold" stroke="#22f522" stroke-width="0.35" textLength="13.5" lengthAdjust="spacingAndGlyphs" >尼龙</text>
<text x="1021" y="578.91" font-size="9.03" fill="#22f522" font-weight="bold" stroke="#22f522" stroke-width="0.35" textLength="13" lengthAdjust="spacingAndGlyphs" >45钢</text>
<text x="1021" y="592.41" font-size="9.03" fill="#22f522" font-weight="bold" stroke="#22f522" stroke-width="0.35" textLength="17" lengthAdjust="spacingAndGlyphs" >PZT-4</text>
<text x="1021" y="605.66" font-size="9.03" fill="#22f522" font-weight="bold" stroke="#22f522" stroke-width="0.35" textLength="6.5" lengthAdjust="spacingAndGlyphs" >铜</text>
<text x="1021" y="618.66" font-size="9.03" fill="#22f522" font-weight="bold" stroke="#22f522" stroke-width="0.35" textLength="13.5" lengthAdjust="spacingAndGlyphs" >硬铝</text>
<text x="805.5" y="666.36" font-size="13.98" fill="#ffffff" font-weight="bold" stroke="#ffffff" stroke-width="0.35" textLength="12.7" lengthAdjust="spacingAndGlyphs" >序号</text>
<text x="848.5" y="666.36" font-size="13.98" fill="#ffffff" font-weight="bold" stroke="#ffffff" stroke-width="0.35" textLength="18.0" lengthAdjust="spacingAndGlyphs" >代号</text>
<text x="928" y="666.36" font-size="13.98" fill="#ffffff" font-weight="bold" stroke="#ffffff" stroke-width="0.35" textLength="18.3" lengthAdjust="spacingAndGlyphs" >名称</text>
<text x="980" y="666.36" font-size="13.98" fill="#ffffff" font-weight="bold" stroke="#ffffff" stroke-width="0.35" textLength="12.7" lengthAdjust="spacingAndGlyphs" >数量</text>
<text x="1021" y="666.36" font-size="13.98" fill="#ffffff" font-weight="bold" stroke="#ffffff" stroke-width="0.35" textLength="19" lengthAdjust="spacingAndGlyphs" >材料</text>
<text x="1068.7" y="658.21" font-size="9.78" fill="#ffffff" font-weight="bold" stroke="#ffffff" stroke-width="0.35" textLength="13.5" lengthAdjust="spacingAndGlyphs" >单件</text>
<text x="1090.5" y="658.21" font-size="9.78" fill="#ffffff" font-weight="bold" stroke="#ffffff" stroke-width="0.35" textLength="13.3" lengthAdjust="spacingAndGlyphs" >总计</text>
<text x="1080" y="671.06" font-size="9.03" fill="#ffffff" font-weight="bold" stroke="#ffffff" stroke-width="0.35" textLength="13.5" lengthAdjust="spacingAndGlyphs" >重量</text>
<text x="1118" y="666.39" font-size="13.55" fill="#ffffff" font-weight="bold" stroke="#ffffff" stroke-width="0.35" textLength="18.6" lengthAdjust="spacingAndGlyphs" >备注</text>
<text x="806.8" y="724.71" font-size="9.89" fill="#ffffff" font-weight="bold" stroke="#ffffff" stroke-width="0.35" textLength="12.7" lengthAdjust="spacingAndGlyphs" >标记</text>
<text x="825.8" y="724.71" font-size="9.89" fill="#ffffff" font-weight="bold" stroke="#ffffff" stroke-width="0.35" textLength="12.7" lengthAdjust="spacingAndGlyphs" >处数</text>
<text x="849" y="724.71" font-size="9.89" fill="#ffffff" font-weight="bold" stroke="#ffffff" stroke-width="0.35" textLength="15.8" lengthAdjust="spacingAndGlyphs" >分 区</text>
<text x="872.6" y="724.71" font-size="9.89" fill="#ffffff" font-weight="bold" stroke="#ffffff" stroke-width="0.35" textLength="29.4" lengthAdjust="spacingAndGlyphs" >更改文件号</text>
<text x="906" y="724.71" font-size="9.89" fill="#ffffff" font-weight="bold" stroke="#ffffff" stroke-width="0.35" textLength="15.5" lengthAdjust="spacingAndGlyphs" >签 名</text>
<text x="926.4" y="724.71" font-size="9.89" fill="#ffffff" font-weight="bold" stroke="#ffffff" stroke-width="0.35" textLength="28.1" lengthAdjust="spacingAndGlyphs" >年、月、日</text>
<text x="806.8" y="737.91" font-size="9.89" fill="#ffffff" font-weight="bold" stroke="#ffffff" stroke-width="0.35" textLength="16.2" lengthAdjust="spacingAndGlyphs" >设 计</text>
<text x="828.2" y="737.91" font-size="9.89" fill="#ffffff" font-weight="bold" stroke="#ffffff" stroke-width="0.35" textLength="19.4" lengthAdjust="spacingAndGlyphs" >王凯老</text>
<text x="881" y="737.91" font-size="9.89" fill="#ffffff" font-weight="bold" stroke="#ffffff" stroke-width="0.35" textLength="19.7" lengthAdjust="spacingAndGlyphs" >标准化</text>
<text x="806.8" y="764.61" font-size="9.89" fill="#ffffff" font-weight="bold" stroke="#ffffff" stroke-width="0.35" textLength="16.7" lengthAdjust="spacingAndGlyphs" >审 核</text>
<text x="806.8" y="777.61" font-size="9.89" fill="#ffffff" font-weight="bold" stroke="#ffffff" stroke-width="0.35" textLength="16.2" lengthAdjust="spacingAndGlyphs" >工 艺</text>
<text x="883" y="777.61" font-size="9.89" fill="#ffffff" font-weight="bold" stroke="#ffffff" stroke-width="0.35" textLength="16.2" lengthAdjust="spacingAndGlyphs" >批 准</text>
<text x="961.6" y="740.7" font-size="10.0" fill="#ffffff" font-weight="bold" stroke="#ffffff" stroke-width="0.35" textLength="36.8" lengthAdjust="spacingAndGlyphs" >阶 段 标 记</text>
<text x="1007.8" y="740.7" font-size="10.0" fill="#ffffff" font-weight="bold" stroke="#ffffff" stroke-width="0.35" textLength="16.2" lengthAdjust="spacingAndGlyphs" >重 量</text>
<text x="1030.6" y="740.7" font-size="10.0" fill="#ffffff" font-weight="bold" stroke="#ffffff" stroke-width="0.35" textLength="16.0" lengthAdjust="spacingAndGlyphs" >比 例</text>
<text x="1034.8" y="758.4" font-size="10.75" fill="#ffffff" font-weight="bold" stroke="#ffffff" stroke-width="0.35" textLength="8.0" lengthAdjust="spacingAndGlyphs" >1:1</text>
<text x="967.5" y="776.21" font-size="9.89" fill="#ffffff" font-weight="bold" stroke="#ffffff" stroke-width="0.35" textLength="7.0" lengthAdjust="spacingAndGlyphs" >共</text>
<text x="991" y="776.21" font-size="9.89" fill="#ffffff" font-weight="bold" stroke="#ffffff" stroke-width="0.35" textLength="7" lengthAdjust="spacingAndGlyphs" >张</text>
<text x="1007.5" y="776.21" font-size="9.89" fill="#ffffff" font-weight="bold" stroke="#ffffff" stroke-width="0.35" textLength="7.0" lengthAdjust="spacingAndGlyphs" >第</text>
<text x="1031" y="776.21" font-size="9.89" fill="#ffffff" font-weight="bold" stroke="#ffffff" stroke-width="0.35" textLength="7" lengthAdjust="spacingAndGlyphs" >张</text>
<text x="1055.6" y="698.32" font-size="18.06" fill="#ffffff" font-weight="bold" stroke="#ffffff" stroke-width="0.25" textLength="65.4" lengthAdjust="spacingAndGlyphs" >河南理工大学机制</text>
<text x="1121.6" y="697.5" font-size="20.45" fill="#ffffff" font-weight="bold" stroke="#ffffff" stroke-width="0.25" textLength="18.4" lengthAdjust="spacingAndGlyphs" >06-2</text>
<text x="1079.4" y="734.48" font-size="18.71" fill="#ffffff" font-weight="bold" stroke="#ffffff" stroke-width="0.25" textLength="36.4" lengthAdjust="spacingAndGlyphs" >换能器</text>
<text x="1079.4" y="769.5" font-size="19.85" fill="#ffffff" font-weight="bold" stroke="#ffffff" stroke-width="0.25" textLength="36.4" lengthAdjust="spacingAndGlyphs" >RUM-02</text>
</g>
</svg>
</body>
</html>
